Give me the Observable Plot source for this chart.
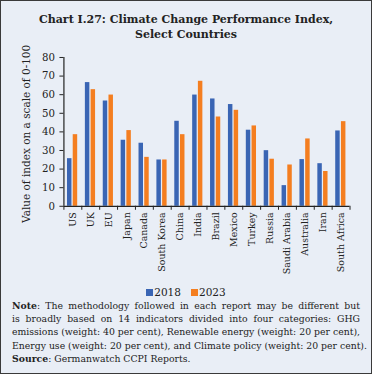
<!DOCTYPE html>
<html><head><meta charset="utf-8">
<script src="https://cdn.jsdelivr.net/npm/d3@7"></script>
<script src="https://cdn.jsdelivr.net/npm/@observablehq/plot@0.6"></script>
<style>
html,body{margin:0;padding:0;}
#wrap{box-sizing:border-box;width:372px;height:374px;background:#e9eef6;border:1.5px solid #3a3a3a;position:relative;overflow:hidden;font-family:"DejaVu Serif",serif;color:#222;}
#title{position:absolute;top:11px;left:0;width:100%;text-align:center;font-weight:bold;font-size:11px;line-height:15px;}
#chart{position:absolute;top:44px;left:-1.5px;}
#chart svg text{font-family:"DejaVu Serif",serif;}
#legend{position:absolute;top:285px;left:0;width:100%;text-align:center;font-size:10.5px;}
#legend span.sw{display:inline-block;width:7px;height:7px;margin-right:1px;}
#note{position:absolute;top:298px;left:11px;width:348px;font-size:9.3px;line-height:13.2px;}
#note div{text-align:justify;text-align-last:justify;white-space:nowrap;}
#note div.last{text-align-last:left;}
</style></head>
<body><div id="wrap">
<div id="title">Chart I.27: Climate Change Performance Index,<br>Select Countries</div>
<div id="chart"></div>
<div id="legend"><span class="sw" style="background:#3a65b4"></span>2018&nbsp;&nbsp;&nbsp;<span class="sw" style="background:#f47e20"></span>2023</div>
<div id="note">
<div><b>Note</b>: The methodology followed in each report may be different but</div>
<div>is broadly based on 14 indicators divided into four categories: GHG</div>
<div>emissions (weight: 40 per cent), Renewable energy (weight: 20 per cent),</div>
<div>Energy use (weight: 20 per cent), and Climate policy (weight: 20 per cent).</div>
<div class="last"><b>Source</b>: Germanwatch CCPI Reports.</div>
</div>
</div>
<script>
const countries = ["US","UK","EU","Japan","Canada","South Korea","China","India","Brazil","Mexico","Turkey","Russia","Saudi Arabia","Australia","Iran","South Africa"];
const values2018 = [25.6,66.5,56.6,35.5,33.9,24.9,45.7,59.8,57.7,54.7,40.9,29.9,11.1,25.1,22.9,40.5];
const values2023 = [38.5,62.7,59.8,40.7,26.3,24.9,38.5,67.2,48.0,51.6,43.2,25.3,22.2,36.2,18.7,45.5];
const yTicks = [0,10,20,30,40,50,60,70,80];
const yLabel = "Value of index on a scale of 0-100";

const W = 372, H = 240, mL = 63.5, mR = 22, mT = 12, mB = 79;
const bw = (W - mL - mR) / countries.length;
const d18 = countries.map((c,i)=>({country:c, value:values2018[i]}));
const d23 = countries.map((c,i)=>({country:c, value:values2023[i]}));

const chart = Plot.plot({
  width: W, height: H,
  marginLeft: mL, marginRight: mR, marginTop: mT, marginBottom: mB,
  style: {background: "transparent", fontFamily: "'DejaVu Serif', serif", fontSize: "10px", color: "#222", overflow: "visible"},
  x: {domain: countries, padding: 0, round: false, label: null},
  y: {domain: [0, 80], label: null},
  marks: [
    Plot.barY(d18, {x: "country", y: "value", fill: "#3a65b4", insetLeft: bw*0.2, insetRight: bw*0.55}),
    Plot.barY(d23, {x: "country", y: "value", fill: "#f47e20", insetLeft: bw*0.52, insetRight: bw*0.23}),
    Plot.ruleY([0], {stroke: "#222", strokeWidth: 1.2}),
    Plot.ruleX([countries[0]], {x: d=>d, y1: 0, y2: 80, dx: -bw/2, stroke: "#222", strokeWidth: 1.2}),
    Plot.ruleX(countries, {x: d=>d, y1: 0, y2: 0, dx: -bw/2, insetBottom: -4, stroke: "#222"}),
    Plot.ruleX([countries[countries.length-1]], {x: d=>d, y1: 0, y2: 0, dx: bw/2, insetBottom: -4, stroke: "#222"}),
    Plot.axisY({ticks: yTicks, tickSize: 4, tickPadding: 5, fontSize: 10.2, label: null}),
    Plot.text([yLabel], {text: d=>d, frameAnchor: "left", textAnchor: "middle", rotate: -90, dx: -37, dy: 2, fontSize: 10.5, fill: "#222"}),
    Plot.axisX({tickSize: 0, tickRotate: -90, tickPadding: 6, fontSize: 9.5})
  ]
});
document.getElementById("chart").appendChild(chart);
</script>
</body></html>
